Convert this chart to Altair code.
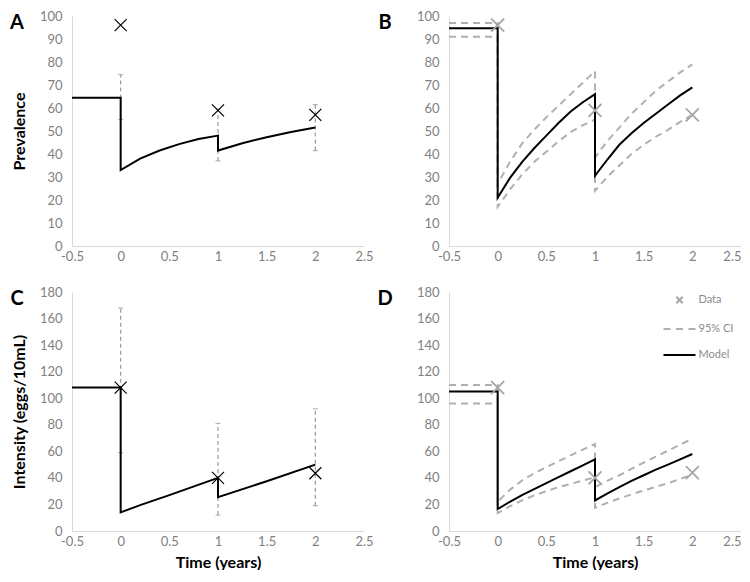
import altair as alt
import pandas as pd

# ---------------- data ----------------
x_ticks = [-0.5, 0, 0.5, 1, 1.5, 2, 2.5]
prev_ticks = [0, 10, 20, 30, 40, 50, 60, 70, 80, 90, 100]
int_ticks = [0, 20, 40, 60, 80, 100, 120, 140, 160, 180]

obs_t = [0, 1, 2]

# Panel A: prevalence, age-structured model
a_model_t = [-0.5, 0, 0, 0.2, 0.4, 0.6, 0.8, 1.0, 1.0, 1.25, 1.5, 1.75, 2.0]
a_model_v = [64.5, 64.5, 33, 38, 41.5, 44.3, 46.5, 48, 41.5, 44.7, 47.3, 49.6, 51.5]
a_data_v = [96, 59, 57]
a_err_lo = [55, 37, 41.5]
a_err_hi = [74.5, 59.5, 61.5]

# Panel B: prevalence, fitted model with 95% CI
b_t = [-0.5, 0, 0, 0.125, 0.25, 0.375, 0.5, 0.625, 0.75, 0.875, 1.0,
       1.0, 1.125, 1.25, 1.375, 1.5, 1.625, 1.75, 1.875, 2.0]
b_model_v = [94.7, 94.7, 21, 29.5, 36.5, 42.5, 48, 53.5, 58.5, 62.5, 66,
             30.5, 37.5, 44, 49, 53.5, 57.5, 61.5, 65.5, 69]
b_ci_hi = [97, 97, 27, 36.5, 44.5, 50.5, 56, 61, 66, 71, 76,
           38.5, 45.5, 51.5, 57.5, 62.5, 67.5, 71.5, 75.5, 79]
b_ci_lo = [91, 91, 17, 24.5, 31, 36.5, 41, 45.5, 49.5, 52.5, 55,
           24, 30, 35, 40, 44, 47.5, 50.5, 54, 57]
b_data_v = [96, 59, 57]

# Panel C: intensity, age-structured model
c_model_t = [-0.5, 0, 0, 0.2, 0.5, 1.0, 1.0, 1.5, 2.0]
c_model_v = [108, 108, 14, 19.5, 27, 40, 25.5, 37.5, 50]
c_data_v = [108, 40, 43.5]
c_err_lo = [59, 12, 19]
c_err_hi = [168, 81, 92]

# Panel D: intensity, fitted model with 95% CI
d_t = b_t
d_model_v = [105, 105, 16.5, 22, 27, 31.5, 36, 40.5, 45, 49.5, 54,
             23, 28.2, 33, 37.7, 42, 46.2, 50, 54, 58]
d_ci_hi = [110, 110, 22, 31, 38, 43.5, 48, 52.5, 57, 61.3, 65.5,
           33, 37.7, 42, 46.8, 51.5, 56, 60.5, 65, 69.5]
d_ci_lo = [96, 96, 13.5, 18.5, 23, 26.8, 30, 33, 35.5, 38, 40.5,
           17.5, 21.2, 24.5, 27.6, 30.5, 33.3, 36, 39.2, 42.5]
d_data_v = [108, 40, 44]

legend_items = ["Data", "95% CI", "Model"]

# ---------------- styling ----------------
FONT = "Lato"
LABEL_GRAY = "#7f7f7f"
AXIS_GRAY = "#d9d9d9"
ERR_GRAY = "#9a9a9a"
CI_GRAY = "#b0b0b0"
PT_GRAY = "#a6a6a6"
X_BIG = "M-1,-1L1,1M-1,1L1,-1"
X_SMALL = "M-0.2,-0.2L0.2,0.2M-0.2,0.2L0.2,-0.2"
DASH_PATH = "M-1,0L-0.56,0M-0.22,0L0.22,0M0.56,0L1,0"
LINE_PATH = "M-1,0L1,0"

W = 292
H_TOP = 230
H_BOT = 239
COL_GAP = 85
ROW_GAP = 46


def X(title, right_panel):
    ax = dict(values=x_ticks, labelExpr="'' + datum.value",
              labelFlush=False, labelOverlap=False)
    if right_panel:
        ax["labelAlign"] = {"condition": {"test": "datum.value == 2.5", "value": "right"},
                            "value": "center"}
    return alt.X("t:Q", title=title,
                 scale=alt.Scale(domain=[-0.5, 2.5], nice=False, zero=False),
                 axis=alt.Axis(**ax))


def Y(title, ymax, ticks):
    return alt.Y("v:Q", title=title,
                 scale=alt.Scale(domain=[0, ymax], nice=False),
                 axis=alt.Axis(values=ticks, labelOverlap=False))


def line_df(t, v):
    return pd.DataFrame({"t": t, "v": v, "i": list(range(len(t)))})


def letter_layer(ch, dx, dy):
    return alt.Chart(alt.Data(values=[{"k": ch}])).mark_text(
        font=FONT, fontSize=20, fontWeight="bold", color="black",
        align="center", baseline="middle").encode(
        text="k:N", x=alt.value(dx), y=alt.value(dy))


def panel_err(letter, mt, mv, dv, lo, hi, ymax, ticks, ytitle, xtitle, h, ldx, ldy):
    xe = X(xtitle, False)
    ye = Y(ytitle, ymax, ticks)
    err = pd.DataFrame({"t": obs_t, "v": lo, "v2": hi})
    caps = pd.DataFrame({"t": obs_t + obs_t, "v": lo + hi})
    pts = pd.DataFrame({"t": obs_t, "v": dv})
    rules = alt.Chart(err).mark_rule(color=ERR_GRAY, strokeDash=[4, 3], strokeWidth=1.2).encode(
        x=xe, y=ye, y2="v2:Q")
    capm = alt.Chart(caps).mark_tick(orient="horizontal", size=5, thickness=1.2,
                                     color=ERR_GRAY).encode(x=xe, y=ye)
    model = alt.Chart(line_df(mt, mv)).mark_line(color="black", strokeWidth=2).encode(
        x=xe, y=ye, order="i:Q")
    points = alt.Chart(pts).mark_point(shape=X_BIG, size=144, color="black", filled=False,
                                       strokeWidth=1.2, opacity=1).encode(x=xe, y=ye)
    return alt.layer(rules, capm, model, points, letter_layer(letter, ldx, ldy)).properties(
        width=W, height=h)


def panel_ci(letter, t, mv, hi, lo, dv, ymax, ticks, ytitle, xtitle, h, ldx, ldy, legend):
    xe = X(xtitle, True)
    ye = Y(ytitle, ymax, ticks)
    ci = pd.concat([line_df(t, hi).assign(b="hi"), line_df(t, lo).assign(b="lo")])
    pts = pd.DataFrame({"t": obs_t, "v": dv, "series": ["Data"] * 3})
    cil = alt.Chart(ci).mark_line(color=CI_GRAY, strokeWidth=2, strokeDash=[7, 5]).encode(
        x=xe, y=ye, detail="b:N", order="i:Q")
    model = alt.Chart(line_df(t, mv)).mark_line(color="black", strokeWidth=2).encode(
        x=xe, y=ye, order="i:Q")
    if legend:
        # legend is placed relative to the first panel's plot origin
        leg = alt.Legend(orient="none", legendX=W + COL_GAP + 213.5,
                         legendY=H_TOP + ROW_GAP - 9, title=None,
                         labelFont=FONT, labelFontSize=11, labelColor="#8c8c8c",
                         symbolSize=1024, symbolStrokeWidth=2, labelOffset=2,
                         rowPadding=4)
        color = alt.Color("series:N", scale=alt.Scale(domain=legend_items,
                                                        range=[PT_GRAY, CI_GRAY, "black"]),
                          legend=leg)
        shape = alt.Shape("series:N", scale=alt.Scale(domain=legend_items,
                                                        range=[X_SMALL, DASH_PATH, LINE_PATH]),
                          legend=leg)
        points = alt.Chart(pts).mark_point(size=4225, filled=False, strokeWidth=1.8,
                                           opacity=1).encode(x=xe, y=ye, color=color, shape=shape)
    else:
        points = alt.Chart(pts).mark_point(shape=X_SMALL, size=4225, color=PT_GRAY, filled=False,
                                           strokeWidth=1.8, opacity=1).encode(x=xe, y=ye)
    return alt.layer(cil, model, points, letter_layer(letter, ldx, ldy)).properties(
        width=W, height=h)


A = panel_err("A", a_model_t, a_model_v, a_data_v, a_err_lo, a_err_hi, 100, prev_ticks,
              "Prevalence", None, H_TOP, -55, 7)
B = panel_ci("B", b_t, b_model_v, b_ci_hi, b_ci_lo, b_data_v, 100, prev_ticks,
             None, None, H_TOP, -64, 7, False)
C = panel_err("C", c_model_t, c_model_v, c_data_v, c_err_lo, c_err_hi, 180, int_ticks,
              "Intensity (eggs/10mL)", "Time (years)", H_BOT, -55, 7)
D = panel_ci("D", d_t, d_model_v, d_ci_hi, d_ci_lo, d_data_v, 180, int_ticks,
             None, "Time (years)", H_BOT, -64, 7, True)

chart = alt.concat(A, B, C, D, columns=2, spacing={"row": ROW_GAP, "column": COL_GAP},
                   bounds="flush", align="each").properties(
    padding={"left": 2, "top": 2, "right": 0, "bottom": 0}
).configure_view(strokeWidth=0).configure_axis(
    labelFont=FONT, labelFontSize=13, labelColor=LABEL_GRAY,
    domainColor=AXIS_GRAY, domainWidth=1, ticks=False, grid=False,
    titleFont=FONT, titleFontSize=16, titleFontWeight="bold", titleColor="black"
).configure_axisX(labelPadding=4, titlePadding=6).configure_axisY(
    labelPadding=10, titlePadding=12)

chart.save("out.html", embed_options={"renderer": "svg", "actions": False})
